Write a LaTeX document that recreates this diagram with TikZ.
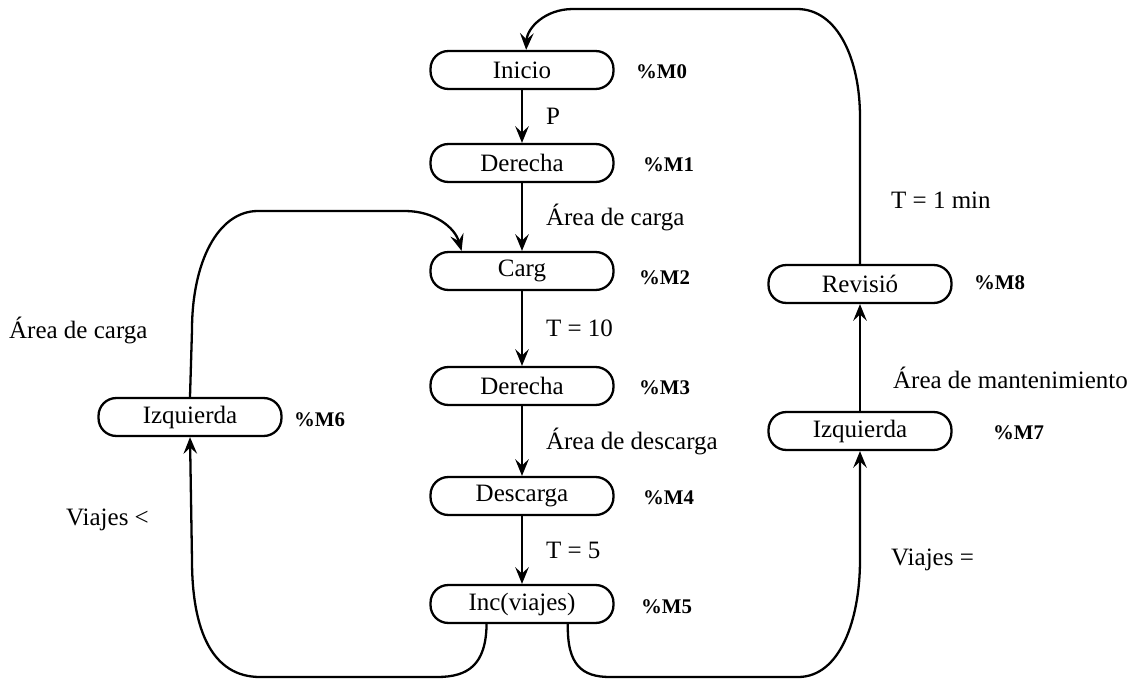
\documentclass[tikz,border=0pt]{standalone}
\usepackage{fontspec}
\setmainfont{Liberation Serif}
\usetikzlibrary{arrows.meta,positioning}
\tikzset{estado/.style={draw,rounded corners=8.5pt,minimum width=87.8pt,minimum height=18.2pt,inner sep=0pt,font=\fontsize{12}{14}\selectfont}}
\tikzset{marca/.style={anchor=west,inner sep=0pt,font=\fontsize{10}{12}\selectfont\bfseries}}
\tikzset{etiq/.style={inner sep=0pt,font=\fontsize{12}{14}\selectfont}}
\tikzset{>={Stealth[length=8pt,width=6.5pt,inset=3pt]}}
\begin{document}
\begin{tikzpicture}[x=0.48pt,y=-0.48pt,line width=1.1pt]
        \useasboundingbox (0,0) rectangle (1148,679);
        % estados
        \node[estado] (inicio) at (522,70) {Inicio};
        \node[estado] (der1) at (522,163) {Derecha};
        \node[estado] (carg) at (522,271) {Carg};
        \node[estado] (der2) at (522,386) {Derecha};
        \node[estado] (desc) at (522,496) {Descarga};
        \node[estado] (inc) at (522,604) {Inc(viajes)};
        \node[estado] (izqa) at (190,417) {Izquierda};
        \node[estado] (izqb) at (860,431) {Izquierda};
        \node[estado] (rev) at (860,284) {Revisió};

        % marcas
        \node[marca] (m0) at (635,72) {\%M0};
        \node[marca] (m1) at (642,165) {\%M1};
        \node[marca] (m2) at (638,278) {\%M2};
        \node[marca] (m3) at (638,388) {\%M3};
        \node[marca] (m4) at (642,498) {\%M4};
        \node[marca] (m5) at (640,607) {\%M5};
        \node[marca] (m6) at (293,420) {\%M6};
        \node[marca] (m7) at (992,433) {\%M7};
        \node[marca] (m8) at (973,283) {\%M8};

        % transiciones
        \draw[->] (inicio) -- (der1) node[etiq,midway,right=11pt] {P};
        \draw[->] (der1) -- (carg) node[etiq,midway,right=11pt] {Área de carga};
        \draw[->] (carg) -- (der2) node[etiq,midway,right=11pt] {T = 10};
        \draw[->] (der2) -- (desc) node[etiq,midway,right=11pt] {Área de descarga};
        \draw[->] (desc) -- (inc) node[etiq,midway,right=11pt] {T = 5};
        \draw[->] (izqb) -- (rev);

        % lazos
        \draw[->] ([xshift=-17pt]inc.south) .. controls (486,665) and (468,677) .. (437,677) -- (260,677)
            .. controls (212,677) and (192,630) .. (192,560) -- (izqa.south);
        \draw[->] (izqa.north) -- (192,330) .. controls (192,262) and (218,211) .. (258,211) -- (405,211)
            .. controls (435,211) and (455,228) .. ([xshift=-29pt]carg.north);
        \draw[->] ([xshift=22pt]inc.south) .. controls (567,665) and (582,677) .. (610,677) -- (798,677)
            .. controls (840,677) and (860,620) .. (860,560) -- (izqb.south);
        \draw[->] (rev.north) -- (860,117) .. controls (860,60) and (838,9) .. (797,9) -- (573,9)
            .. controls (545,9) and (527,28) .. ([xshift=2pt]inicio.north);

        % condiciones
        \node[etiq,anchor=west] (cargaizq) at (8,330) {Área de carga};
        \node[etiq,anchor=west] (viajesmen) at (65,520) {Viajes <};
        \node[etiq,anchor=west] (viajesig) at (890,560) {Viajes =};
        \node[etiq,anchor=west] (mant) at (892,378) {Área de mantenimiento};
        \node[etiq,anchor=west] (tmin) at (890,200) {T = 1 min};
\end{tikzpicture}
\end{document}
